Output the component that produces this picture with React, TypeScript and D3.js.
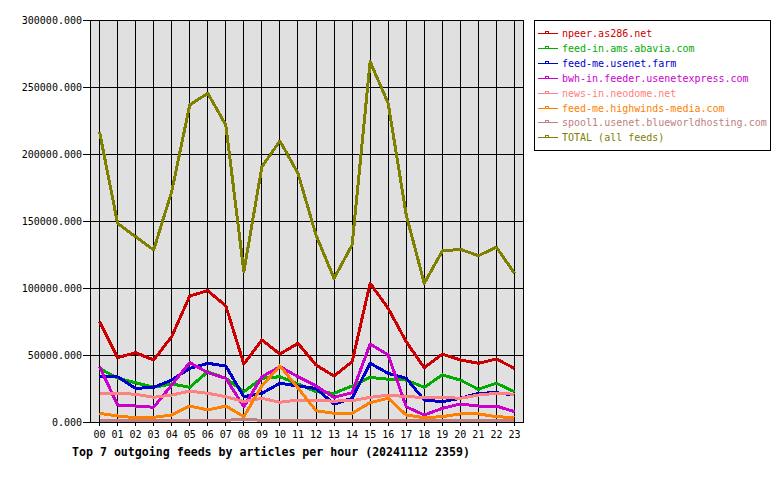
import { useRef, useEffect } from "react";
import * as d3 from "d3";

const hours: string[] = d3.range(24).map((h) => String(h).padStart(2, "0"));

const feedNames: string[] = [
    "npeer.as286.net",
    "feed-in.ams.abavia.com",
    "feed-me.usenet.farm",
    "bwh-in.feeder.usenetexpress.com",
    "news-in.neodome.net",
    "feed-me.highwinds-media.com",
    "spool1.usenet.blueworldhosting.com",
    "TOTAL (all feeds)",
];

const feedColors: string[] = ["#cc0000", "#00aa00", "#0000cc", "#cc00cc", "#ff8080", "#ff8000", "#c08080", "#808000"];

const npeer = [74850, 48000, 51700, 46300, 63700, 94000, 98000, 86600, 43300, 61200, 50700, 58700,
    42500, 34300, 45000, 103500, 84800, 59900, 40500, 50700, 46300, 43800, 47000, 40000];
const abavia = [40000, 32600, 29300, 25900, 28400, 25900, 37500, 32600, 22600, 32600, 33800, 28400,
    22600, 21400, 26900, 33300, 31900, 31300, 25900, 35100, 31300, 24400, 28900, 22600];
const usenetFarm = [34300, 33800, 25100, 25900, 31300, 40000, 43800, 41800, 18900, 21400, 28900, 26900,
    25000, 13400, 17700, 43800, 36300, 32600, 16400, 15200, 17700, 21400, 21900, 20100];
const bwh = [41300, 12700, 11900, 11000, 27600, 44300, 36800, 32600, 11400, 33800, 41300, 33800,
    26900, 18400, 21900, 58200, 50000, 11400, 5200, 10200, 13400, 11900, 11900, 7700];
const neodome = [21400, 21400, 20700, 18400, 20100, 23100, 21400, 18900, 15200, 17700, 14700, 16400,
    15900, 15600, 15900, 18400, 20100, 18900, 18400, 18400, 17700, 20100, 21400, 20700];
const highwinds = [6500, 4500, 3200, 3500, 5200, 11900, 9000, 11900, 4000, 26900, 41800, 25400,
    8400, 6500, 6500, 14400, 17700, 5200, 3200, 4000, 6000, 6000, 4000, 3200];
const spool1 = [1300, 1300, 1200, 1200, 1300, 1300, 1200, 1300, 2000, 1300, 1200, 1300,
    1200, 1200, 1300, 1300, 1200, 1200, 1300, 1200, 1200, 1300, 1200, 1200];
const total = [216600, 148300, 138300, 128400, 171900, 236600, 245300, 221600, 112200, 190500, 209700, 185600,
    139500, 107200, 132100, 268900, 237800, 154500, 103500, 127600, 128900, 124100, 130400, 111000];

const series: number[][] = [npeer, abavia, usenetFarm, bwh, neodome, highwinds, spool1, total];
const yTicks: number[] = d3.range(0, 300001, 50000);
const title = "Top 7 outgoing feeds by articles per hour (20241112 2359)";

const FONT = "'DejaVu Sans Mono', monospace";

export default function App() {
    const svgRef = useRef<SVGSVGElement | null>(null);

    useEffect(() => {
        if (!svgRef.current) return;
        const svg = d3.select(svgRef.current);
        svg.selectAll("*").remove();

        const plot = { left: 90, right: 523, top: 20, bottom: 422 };

        const xScale = d3.scalePoint<string>().domain(hours).range([plot.left, plot.right]).padding(0.5);
        const yScale = d3.scaleLinear().domain([0, 300000]).range([plot.bottom, plot.top]);

        svg.append("rect")
            .attr("width", 780).attr("height", 480).attr("fill", "#ffffff");

        // plot background
        svg.append("rect")
            .attr("x", plot.left).attr("y", plot.top)
            .attr("width", plot.right - plot.left).attr("height", plot.bottom - plot.top)
            .attr("fill", "#e0e0e0");

        // grid + ticks
        const grid = svg.append("g").attr("shape-rendering", "crispEdges").attr("stroke", "#000").attr("stroke-width", 1);
        hours.forEach((h) => {
            const x = Math.round(xScale(h)!) + 0.5;
            grid.append("line").attr("x1", x).attr("x2", x).attr("y1", plot.top).attr("y2", plot.bottom + 4);
        });
        yTicks.forEach((v) => {
            const y = Math.round(yScale(v)) + 0.5;
            grid.append("line").attr("x1", plot.left - 7).attr("x2", plot.right).attr("y1", y).attr("y2", y);
        });

        // frame
        svg.append("rect")
            .attr("x", plot.left + 0.5).attr("y", plot.top + 0.5)
            .attr("width", plot.right - plot.left).attr("height", plot.bottom - plot.top)
            .attr("fill", "none").attr("stroke", "#000").attr("shape-rendering", "crispEdges");

        // y labels
        svg.append("g").selectAll("text")
            .data(yTicks)
            .join("text")
            .attr("x", 82)
            .attr("y", (d) => yScale(d) + 4)
            .attr("text-anchor", "end")
            .attr("font-family", FONT)
            .attr("font-size", 10)
            .text((d) => d3.format(".3f")(d));

        // x labels
        svg.append("g").selectAll("text")
            .data(hours)
            .join("text")
            .attr("x", (d) => xScale(d)! + 0.5)
            .attr("y", 438)
            .attr("text-anchor", "middle")
            .attr("font-family", FONT)
            .attr("font-size", 10)
            .text((d) => d);

        // lines
        const line = d3.line<number>()
            .x((_d, i) => xScale(hours[i])! + 0.5)
            .y((d) => yScale(d));

        series.forEach((vals, i) => {
            svg.append("path")
                .datum(vals)
                .attr("d", line)
                .attr("fill", "none")
                .attr("stroke", feedColors[i])
                .attr("stroke-width", 3)
                .attr("stroke-linejoin", "round")
                .attr("shape-rendering", "crispEdges");
        });

        // legend
        const legend = svg.append("g");
        legend.append("rect")
            .attr("x", 534.5).attr("y", 20.5).attr("width", 236).attr("height", 130)
            .attr("fill", "#fff").attr("stroke", "#000").attr("shape-rendering", "crispEdges");

        feedNames.forEach((name, i) => {
            const y = Math.round(33 + i * 14.9) + 0.5;
            const g = legend.append("g").attr("shape-rendering", "crispEdges");
            g.append("line").attr("x1", 538).attr("x2", 558).attr("y1", y).attr("y2", y).attr("stroke", feedColors[i]);
            g.append("rect").attr("x", 545.5).attr("y", y - 2).attr("width", 3).attr("height", 2)
                .attr("fill", "none").attr("stroke", feedColors[i]);
            legend.append("text")
                .attr("x", 562).attr("y", y + 3.5)
                .attr("font-family", FONT).attr("font-size", 10)
                .attr("fill", feedColors[i])
                .text(name);
        });

        // title
        svg.append("text")
            .attr("x", 72).attr("y", 456)
            .attr("font-family", FONT).attr("font-size", 11.6).attr("font-weight", "bold")
            .text(title);
    }, []);

    return (
        <svg ref={svgRef} width={780} height={480} style={{ position: "absolute", left: 0, top: 0 }}></svg>
    );
}
